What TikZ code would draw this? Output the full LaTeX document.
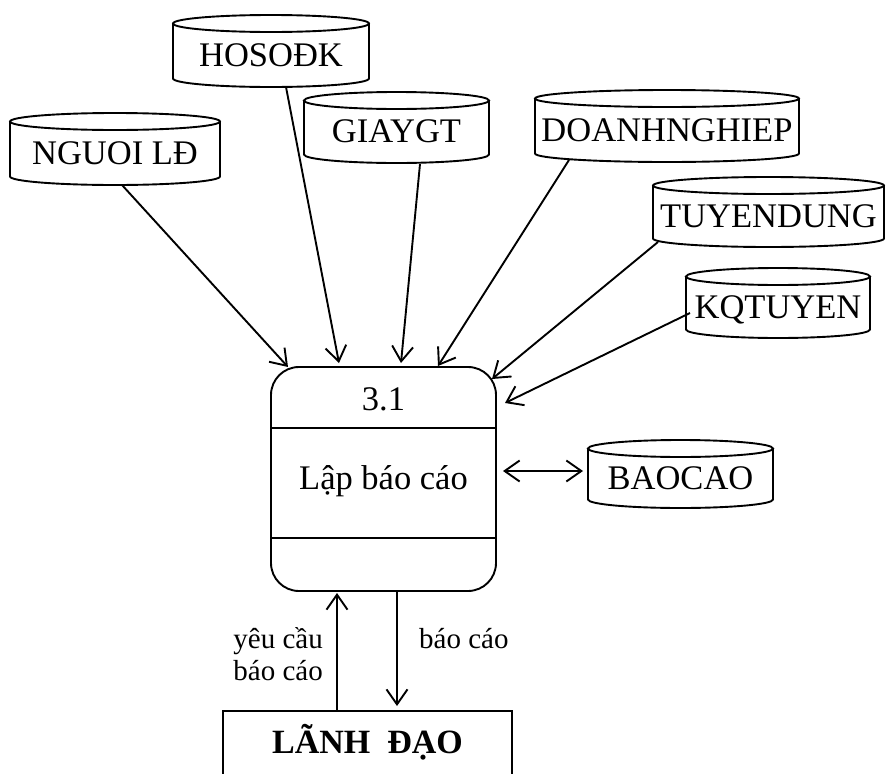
\documentclass[tikz,border=0pt]{standalone}
\usepackage{fontspec}
\setmainfont{Liberation Serif}
\usetikzlibrary{arrows.meta}
\tikzset{
  ln/.style={line width=1.9pt},
  flow/.style={ln, -{Straight Barb[length=15pt,width=21pt,line width=1.9pt]}},
  bothflow/.style={ln, {Straight Barb[length=15pt,width=21pt,line width=1.9pt]}-{Straight Barb[length=15pt,width=21pt,line width=1.9pt]}},
  storearea/.style={rectangle, inner sep=0pt, outer sep=0pt},
  bigtext/.style={font=\fontsize{34.5}{40}\selectfont, inner sep=0pt, anchor=base},
  smalltext/.style={font=\fontsize{29}{32}\selectfont, inner sep=0pt, anchor=base},
}
\def\ry{8.5}
\newcommand\store[6]{%
  \pgfmathsetmacro\sxc{(#2+#3)/2}%
  \pgfmathsetmacro\syc{(#4+#5)/2}%
  \pgfmathsetmacro\srx{(#3-#2)/2}%
  \pgfmathsetmacro\sw{#3-#2}%
  \pgfmathsetmacro\sh{#5-#4}%
  \pgfmathsetmacro\sya{#4+\ry}%
  \pgfmathsetmacro\syb{#5-\ry}%
  \node[storearea, minimum width=\sw pt, minimum height=\sh pt] (#1) at (\sxc,\syc) {};
  \draw[ln] (\sxc,\sya) ellipse [x radius=\srx pt, y radius=\ry pt];
  \draw[ln] (#2,\sya) -- (#2,\syb) arc[start angle=180, end angle=360, x radius=\srx pt, y radius=\ry pt] -- (#3,\sya);
  \node[bigtext] (#1-t) at ([yshift=-15pt]#1.center) {#6};
}
\begin{document}
\begin{tikzpicture}[x=1pt, y=-1pt]
\useasboundingbox (0,0) rectangle (887,774);
\clip (0,0) rectangle (887,774);

% data stores
\store{nguoi}{10}{220}{113}{185}{NGUOI LĐ}
\store{hoso}{173}{369}{15}{87}{HOSOĐK}
\store{giay}{304}{489}{92}{163}{GIAYGT}
\store{doanh}{535}{799}{90}{162}{DOANHNGHIEP}
\store{tuyen}{653}{884}{177}{247}{TUYENDUNG}
\store{kq}{686}{870}{268}{338}{KQTUYEN}
\store{baocao}{588}{773}{440}{508}{BAOCAO}

% process
\node[draw, ln, rounded corners=28pt, minimum width=225pt, minimum height=224pt, inner sep=0pt, outer sep=0pt] (proc) at (383.5,479) {};
\draw[ln] ([yshift=-61pt]proc.north west) -- ([yshift=-61pt]proc.north east);
\draw[ln] ([yshift=-171pt]proc.north west) -- ([yshift=-171pt]proc.north east);
\node[bigtext] (pid) at (383.5,410) {3.1};
\node[bigtext] (pname) at (383.5,489) {Lập báo cáo};

% external entity
\node[draw, ln, rectangle, minimum width=289pt, minimum height=110pt, inner sep=0pt, outer sep=0pt] (lead) at (367.5,766) {};
\node[font=\fontsize{34}{40}\selectfont\bfseries, inner sep=0pt, anchor=base] (lead-t) at (367.5,753) {LÃNH\ \ ĐẠO};

% flows into the process
\draw[flow] ([xshift=7pt]nguoi.south) -- ([xshift=-95.5pt]proc.north);
\draw[flow] ([xshift=15pt]hoso.south) -- ([xshift=-44.5pt,yshift=4pt]proc.north);
\draw[flow] ([xshift=23.5pt,yshift=-1pt]giay.south) -- ([xshift=17.5pt,yshift=4pt]proc.north);
\draw[flow] ([xshift=-98pt,yshift=2pt]doanh.south) -- ([xshift=54.5pt,yshift=1pt]proc.north);
\draw[flow] ([xshift=5pt,yshift=5pt]tuyen.south west) -- ([xshift=-4pt,yshift=-12pt]proc.north east);
\draw[flow] ([xshift=4pt,yshift=-10pt]kq.west) -- ([xshift=9pt,yshift=-36pt]proc.north east);

% report store
\draw[bothflow] ([xshift=7pt,yshift=8pt]proc.east) -- ([xshift=-5pt,yshift=3pt]baocao.west);

% with the leader
\draw[flow] ([xshift=-30.5pt]lead.north) -- ([xshift=-46.5pt,yshift=-2pt]proc.south);
\draw[flow] ([xshift=13.5pt]proc.south) -- ([xshift=29.5pt,yshift=5pt]lead.north);

\node[smalltext, anchor=base east] (req1) at (323,648) {yêu cầu};
\node[smalltext, anchor=base east] (req2) at (323,680) {báo cáo};
\node[smalltext, anchor=base west] (rep) at (419,648) {báo cáo};
\end{tikzpicture}
\end{document}
